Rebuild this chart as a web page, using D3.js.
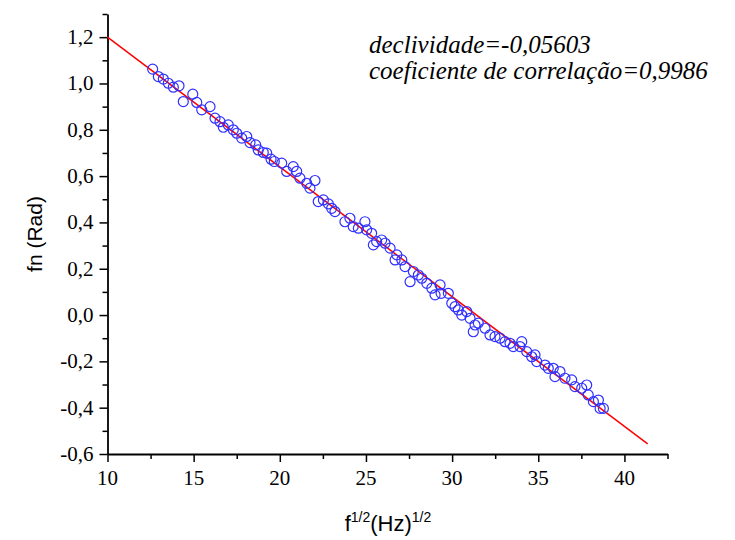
<!DOCTYPE html>
<html>
<head>
<meta charset="utf-8">
<script src="https://cdn.jsdelivr.net/npm/d3@7"></script>
<style>
  body { margin: 0; background: #fff; }
  svg { display: block; }
</style>
</head>
<body>
<svg class="chart"></svg>
<script>
// measured points: sqrt(f) vs fn
const xValues = [12.62, 12.95, 13.24, 13.53, 13.82, 14.15, 14.40, 14.95, 15.18, 15.47, 15.95, 16.24, 16.53, 16.72, 17.01, 17.30, 17.50,
    17.79, 18.08, 18.27, 18.60, 18.75, 19.04, 19.24, 19.49, 19.68, 20.11, 20.40, 20.78, 20.98, 21.17, 21.56, 22.04, 21.75, 22.23, 22.53, 22.82, 23.01,
    23.20, 23.78, 24.07, 24.26, 24.56, 24.94, 25.04, 25.33, 25.62, 25.43, 25.91, 26.11, 26.40, 26.79, 26.69, 27.08, 27.27, 27.75, 27.56, 28.04, 28.24, 28.53,
    28.82, 29.01, 29.30, 29.36, 29.78, 29.98, 30.17, 30.36, 30.56, 30.85, 31.04, 31.33, 31.23, 31.52, 31.91, 32.20, 32.49, 32.78, 33.07, 33.36, 33.55, 33.94, 34.04,
    34.33, 34.62, 34.81, 34.91, 35.39, 35.58, 35.87, 35.97, 36.26, 36.55, 36.94, 37.13, 37.52, 37.81, 37.90, 38.20, 38.49, 38.59, 38.78];
const yValues = [1.062, 1.030, 1.019, 1.001, 0.984, 0.990, 0.922, 0.954, 0.918, 0.886, 0.900, 0.850, 0.835, 0.811, 0.821, 0.800, 0.785,
    0.764, 0.771, 0.745, 0.735, 0.713, 0.702, 0.699, 0.673, 0.663, 0.656, 0.620, 0.641, 0.620, 0.591, 0.569, 0.581, 0.548, 0.490, 0.497, 0.480, 0.461,
    0.447, 0.403, 0.418, 0.382, 0.375, 0.403, 0.368, 0.353, 0.317, 0.303, 0.324, 0.310, 0.289, 0.260, 0.238, 0.238, 0.209, 0.188, 0.144, 0.173, 0.159, 0.137,
    0.116, 0.087, 0.130, 0.094, 0.094, 0.051, 0.036, 0.022, 0.000, 0.015, -0.014, -0.043, -0.072, -0.035, -0.057, -0.086, -0.093, -0.100, -0.115, -0.122, -0.136, -0.136, -0.115,
    -0.158, -0.180, -0.172, -0.201, -0.216, -0.230, -0.230, -0.266, -0.244, -0.273, -0.280, -0.309, -0.316, -0.302, -0.345, -0.374, -0.367, -0.403, -0.403];

// linear fit
const slope = -0.05603;
const intercept = 1.7603;
const fitRange = [10, 41.35];

const xTicks = [10, 15, 20, 25, 30, 35, 40];
const yTicks = [-0.6, -0.4, -0.2, 0.0, 0.2, 0.4, 0.6, 0.8, 1.0, 1.2];
const annotation = ["declividade=-0,05603", "coeficiente de correlação=0,9986"];

// Times is not installed here, use whichever serif resolves
const serif = "'Liberation Serif', 'DejaVu Serif Condensed', 'DejaVu Serif', serif";
const sans = "'Liberation Sans', Arial, sans-serif";

const width = 735;
const height = 540;
const margin = { top: 14, right: 67.5, bottom: 86, left: 107.5 };

const svg = d3.select(".chart")
    .attr("width", width)
    .attr("height", height);

const x = d3.scaleLinear().domain([10, 42.5]).range([margin.left, width - margin.right]);
const y = d3.scaleLinear().domain([-0.6, 1.3]).range([height - margin.bottom, margin.top]);

const fmt = d => d3.format(".1f")(d).replace(".", ",").replace("\u2212", "-");

// minor ticks first, then major axes on top (labels drawn separately below)
svg.append("g")
    .attr("transform", `translate(0, ${height - margin.bottom})`)
    .call(d3.axisBottom(x).tickValues(d3.range(12.5, 43, 5)).tickSize(5).tickFormat(""))
    .call(g => g.select(".domain").remove());

svg.append("g")
    .attr("transform", `translate(${margin.left}, 0)`)
    .call(d3.axisLeft(y).tickValues(d3.range(-0.5, 1.35, 0.2)).tickSize(5).tickFormat(""))
    .call(g => g.select(".domain").remove());

svg.append("g")
    .attr("transform", `translate(0, ${height - margin.bottom})`)
    .call(d3.axisBottom(x).tickValues(xTicks).tickSize(8).tickSizeOuter(0).tickFormat(""));

svg.append("g")
    .attr("transform", `translate(${margin.left}, 0)`)
    .call(d3.axisLeft(y).tickValues(yTicks).tickSize(8).tickSizeOuter(0).tickFormat(""));

svg.selectAll(".tick line").attr("stroke", "#000").attr("stroke-width", 1.5);
svg.selectAll(".domain").attr("stroke", "#000").attr("stroke-width", 1.8);

// tick labels
svg.append("g")
    .selectAll("text")
    .data(xTicks)
    .join("text")
    .attr("x", d => x(d))
    .attr("y", height - margin.bottom + 31)
    .attr("text-anchor", "middle")
    .style("font-family", serif)
    .style("font-size", "21px")
    .text(d => d);

svg.append("g")
    .selectAll("text")
    .data(yTicks)
    .join("text")
    .attr("x", margin.left - 14)
    .attr("y", d => y(d) + 7)
    .attr("text-anchor", "end")
    .style("font-family", serif)
    .style("font-size", "21px")
    .text(fmt);

// fit line
svg.append("line")
    .attr("x1", x(fitRange[0]))
    .attr("y1", y(intercept + slope * fitRange[0]))
    .attr("x2", x(fitRange[1]))
    .attr("y2", y(intercept + slope * fitRange[1]))
    .attr("stroke", "#ff0000")
    .attr("stroke-width", 1.5);

// data points
svg.append("g")
    .selectAll("circle")
    .data(xValues.map((d, i) => [d, yValues[i]]))
    .join("circle")
    .attr("cx", d => x(d[0]))
    .attr("cy", d => y(d[1]))
    .attr("r", 5)
    .attr("fill", "none")
    .attr("stroke", "#3030ff")
    .attr("stroke-width", 1.2);

// annotation
svg.append("g")
    .selectAll("text")
    .data(annotation)
    .join("text")
    .attr("x", 369)
    .attr("y", (d, i) => 53 + i * 25.5)
    .style("font-family", serif)
    .style("font-style", "italic")
    .style("font-size", "25px")
    .text(d => d);

// axis titles
svg.append("text")
    .attr("transform", `translate(42, ${(margin.top + height - margin.bottom) / 2}) rotate(-90)`)
    .attr("text-anchor", "middle")
    .style("font-family", sans)
    .style("font-size", "21px")
    .text("fn (Rad)");

const xTitle = svg.append("text")
    .attr("x", 388)
    .attr("y", 531)
    .attr("text-anchor", "middle")
    .style("font-family", sans)
    .style("font-size", "22px");
xTitle.append("tspan").text("f");
xTitle.append("tspan").attr("dy", -9).style("font-size", "14px").text("1/2");
xTitle.append("tspan").attr("dy", 9).text("(Hz)");
xTitle.append("tspan").attr("dy", -9).style("font-size", "14px").text("1/2");
</script>
</body>
</html>
